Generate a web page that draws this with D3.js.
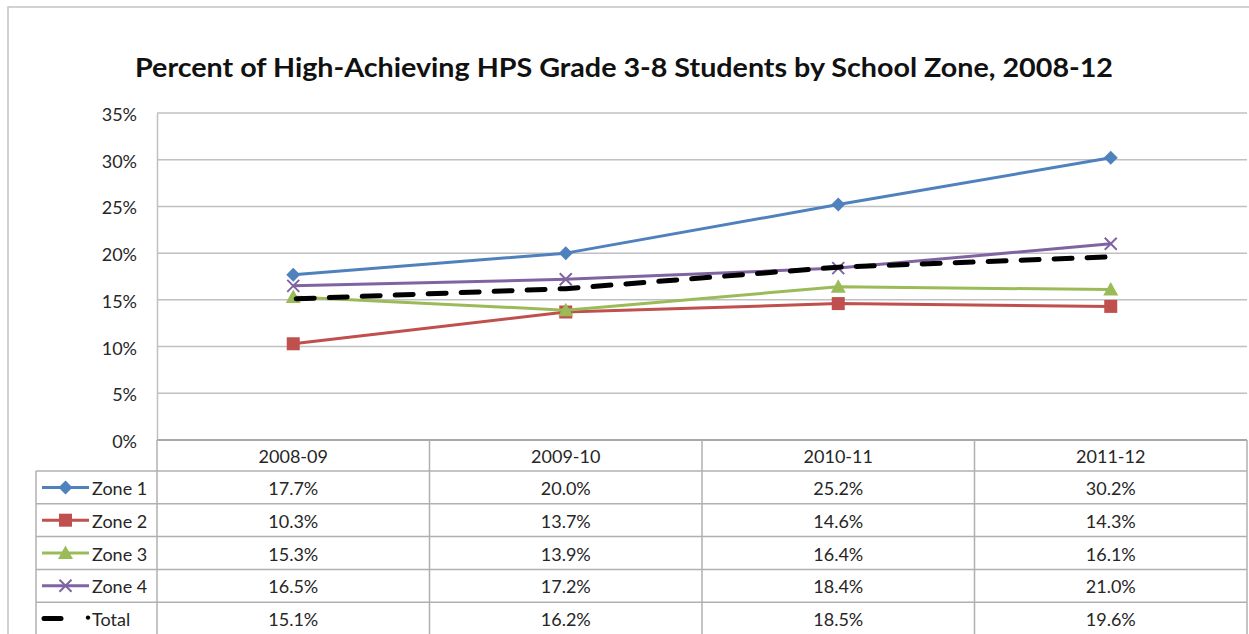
<!DOCTYPE html>
<html>
<head>
<meta charset="utf-8">
<script src="https://cdn.jsdelivr.net/npm/d3@7/dist/d3.min.js"></script>
<style>
  html, body { margin: 0; padding: 0; background: #fff; }
  svg { display: block; }
</style>
</head>
<body>
<svg id="chart" width="1249" height="634"></svg>
<script>
const title = "Percent of High-Achieving HPS Grade 3-8 Students by School Zone, 2008-12";
const categories = ["2008-09", "2009-10", "2010-11", "2011-12"];
const seriesNames = ["Zone 1", "Zone 2", "Zone 3", "Zone 4", "Total"];
const zone1 = [17.7, 20.0, 25.2, 30.2];
const zone2 = [10.3, 13.7, 14.6, 14.3];
const zone3 = [15.3, 13.9, 16.4, 16.1];
const zone4 = [16.5, 17.2, 18.4, 21.0];
const total = [15.1, 16.2, 18.5, 19.6];
const yTicks = [0, 5, 10, 15, 20, 25, 30, 35];

const seriesValues = [zone1, zone2, zone3, zone4, total];
const colors = ["#4f81bd", "#c0504d", "#9bbb59", "#8064a2", "#000000"];
const markers = ["diamond", "square", "triangle", "x", "none"];

const FONT = "Lato, 'Open Sans', sans-serif";
const svg = d3.select("#chart");

const plotL = 157, plotR = 1247, plotT = 113, plotB = 440;
const x = d3.scalePoint().domain(categories).range([plotL, plotR]).padding(0.5);
const y = d3.scaleLinear().domain([0, 35]).range([plotB, plotT]);
const step = x.step();

// outer border
svg.append("rect").attr("x", 8).attr("y", 7).attr("width", 1300).attr("height", 700)
  .attr("fill", "none").attr("stroke", "#c4c4c4").attr("stroke-width", 1.5);

// title
svg.append("text").attr("x", 624).attr("y", 77).attr("text-anchor", "middle")
  .attr("font-family", FONT).attr("font-weight", "bold").attr("font-size", 26)
  .attr("fill", "#111").attr("textLength", 978).attr("lengthAdjust", "spacingAndGlyphs")
  .text(title);

// gridlines
svg.append("g").selectAll("line").data(yTicks).join("line")
  .attr("x1", plotL).attr("x2", plotR)
  .attr("y1", d => y(d)).attr("y2", d => y(d))
  .attr("stroke", "#c0c0c0").attr("stroke-width", 1.5);

// y axis
const yAxis = svg.append("g").attr("transform", `translate(${plotL},0)`)
  .call(d3.axisLeft(y).tickValues(yTicks).tickSize(0).tickPadding(20).tickFormat(d => d + "%"));
yAxis.select(".domain").attr("stroke", "#c0c0c0").attr("stroke-width", 1.5);
yAxis.selectAll("text").attr("font-family", FONT).attr("font-size", 18).attr("fill", "#262626")
  .attr("dy", "0.42em");

// table
const headerT = plotB, headerB = 471;
const rowH = 32.8;
const rowY = i => headerB + i * rowH; // top of row i
const tableBottom = 700;
const gridC = "#b0b0b0";
const tg = svg.append("g");
tg.append("line").attr("x1", plotL).attr("x2", plotR).attr("y1", plotB).attr("y2", plotB)
  .attr("stroke", "#a8a8a8").attr("stroke-width", 2);
[0, 1, 2, 3, 4].forEach(i => {
  tg.append("line").attr("x1", 36).attr("x2", plotR).attr("y1", rowY(i)).attr("y2", rowY(i))
    .attr("stroke", gridC).attr("stroke-width", 1.5);
});
tg.append("line").attr("x1", 36).attr("x2", 36).attr("y1", headerB).attr("y2", tableBottom)
  .attr("stroke", gridC).attr("stroke-width", 1.5);
categories.forEach((c, i) => {
  const xl = x(c) - step / 2;
  tg.append("line").attr("x1", xl).attr("x2", xl).attr("y1", headerT).attr("y2", tableBottom)
    .attr("stroke", gridC).attr("stroke-width", 1.5);
});
tg.append("line").attr("x1", plotR).attr("x2", plotR).attr("y1", headerT).attr("y2", tableBottom)
  .attr("stroke", gridC).attr("stroke-width", 1.5);

// header labels
tg.selectAll("text.hdr").data(categories).join("text").attr("class", "hdr")
  .attr("x", d => x(d)).attr("y", headerT + 23).attr("text-anchor", "middle")
  .attr("font-family", FONT).attr("font-size", 18).attr("fill", "#262626").text(d => d);

// values
seriesValues.forEach((vals, si) => {
  tg.selectAll(`text.v${si}`).data(vals).join("text").attr("class", `v${si}`)
    .attr("x", (d, i) => x(categories[i])).attr("y", rowY(si) + 24)
    .attr("text-anchor", "middle").attr("font-family", FONT).attr("font-size", 18)
    .attr("fill", "#262626").text(d => d.toFixed(1) + "%");
});

function drawMarker(g, type, cx, cy, color) {
  if (type === "diamond") {
    g.append("path").attr("d", `M${cx},${cy - 7}L${cx + 7},${cy}L${cx},${cy + 7}L${cx - 7},${cy}Z`)
      .attr("fill", color);
  } else if (type === "square") {
    g.append("rect").attr("x", cx - 6.5).attr("y", cy - 6.5).attr("width", 13).attr("height", 13)
      .attr("fill", color);
  } else if (type === "triangle") {
    g.append("path").attr("d", `M${cx},${cy - 7.5}L${cx + 7.5},${cy + 6}L${cx - 7.5},${cy + 6}Z`)
      .attr("fill", color);
  } else if (type === "x") {
    g.append("path").attr("d", `M${cx - 6},${cy - 6}L${cx + 6},${cy + 6}M${cx - 6},${cy + 6}L${cx + 6},${cy - 6}`)
      .attr("stroke", color).attr("stroke-width", 2).attr("fill", "none");
  }
}

// lines
const lineGen = d3.line().x((d, i) => x(categories[i])).y(d => y(d));
const lg = svg.append("g");
[1, 2, 3, 0, 4].forEach(si => {
  const path = lg.append("path").datum(seriesValues[si]).attr("d", lineGen)
    .attr("fill", "none").attr("stroke", colors[si]);
  if (si === 4) {
    path.attr("stroke-width", 5).attr("stroke-dasharray", "18,15").attr("stroke-linecap", "round")
      .attr("stroke-dashoffset", -3);
  } else {
    path.attr("stroke-width", 3).attr("stroke-linejoin", "round");
  }
  seriesValues[si].forEach((v, i) => drawMarker(lg, markers[si], x(categories[i]), y(v), colors[si]));
});

// legend in table
seriesNames.forEach((name, si) => {
  const cy = rowY(si) + rowH / 2;
  if (si < 4) {
    tg.append("line").attr("x1", 42).attr("x2", 89).attr("y1", cy).attr("y2", cy)
      .attr("stroke", colors[si]).attr("stroke-width", 3);
    drawMarker(tg, markers[si], 65.5, cy, colors[si]);
  } else {
    tg.append("line").attr("x1", 44).attr("x2", 61).attr("y1", cy).attr("y2", cy)
      .attr("stroke", "#000").attr("stroke-width", 5).attr("stroke-linecap", "round");
    tg.append("circle").attr("cx", 88).attr("cy", cy - 1).attr("r", 2.2).attr("fill", "#000");
  }
  tg.append("text").attr("x", 92).attr("y", rowY(si) + 24)
    .attr("font-family", FONT).attr("font-size", 18).attr("fill", "#262626").text(name);
});
</script>
</body>
</html>
